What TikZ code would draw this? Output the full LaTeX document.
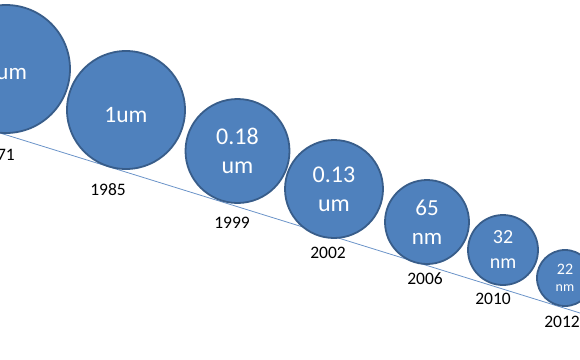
\documentclass[tikz,border=0pt]{standalone}
\usepackage{fontspec}
\setmainfont{Carlito}
\definecolor{cfill}{HTML}{4F81BD}
\definecolor{cedge}{HTML}{385D8A}
\definecolor{lineblue}{HTML}{6A93C8}
\begin{document}
\begin{tikzpicture}[x=1pt,y=-1pt,
  bubble/.style={circle,fill=cfill,draw=cedge,line width=1.8pt,inner sep=0pt,text=white,align=center},
  year/.style={font=\fontsize{17.5}{20}\selectfont,text=black,inner sep=0pt}]
\useasboundingbox (0,0) rectangle (580,359);
\coordinate (l0) at (0,133);
\coordinate (l1) at (580,313);
\draw[lineblue,line width=0.8pt] (l0) -- (l1);
\node[bubble,minimum size=128pt,font=\fontsize{23}{28}\selectfont] (c1) at (6,69) {\rule{0pt}{22pt}\hspace*{-12pt}10um};
\node[bubble,minimum size=118pt,font=\fontsize{23.5}{28}\selectfont] (c2) at (126,110) {\rule{0pt}{25pt}1um};
\node[bubble,minimum size=104pt,font=\fontsize{24}{29}\selectfont] (c3) at (237.5,151) {0.18\\um};
\node[bubble,minimum size=98pt,font=\fontsize{24}{29}\selectfont] (c4) at (334,189) {0.13\\um};
\node[bubble,minimum size=84pt,font=\fontsize{23}{29}\selectfont] (c5) at (427,222) {65\\nm};
\node[bubble,minimum size=70pt,font=\fontsize{20}{25}\selectfont] (c6) at (503,250) {32\\nm};
\node[bubble,minimum size=56pt,font=\fontsize{16}{17}\selectfont] (c7) at (565,278) {22\\{\fontsize{14}{17}\selectfont nm}};
\node[year] (y1) at (-3,155) {1971};
\node[year] (y2) at (108,190) {1985};
\node[year] (y3) at (232,223) {1999};
\node[year] (y4) at (328,253) {2002};
\node[year] (y5) at (425,279) {2006};
\node[year] (y6) at (493,299) {2010};
\node[year] (y7) at (562,322) {2012};
\end{tikzpicture}
\end{document}
